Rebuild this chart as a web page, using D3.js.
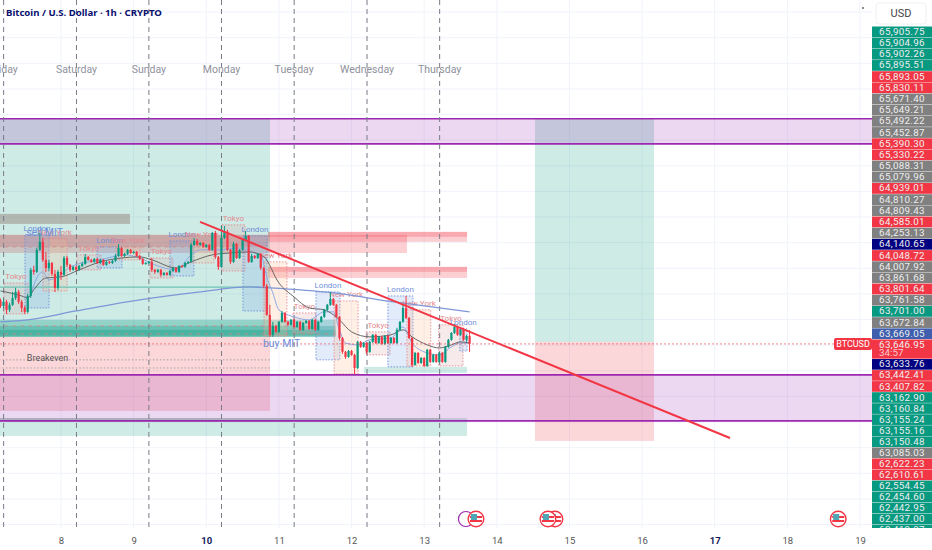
<!DOCTYPE html>
<html>
<head>
<meta charset="utf-8">
<script src="https://cdn.jsdelivr.net/npm/d3@7"></script>
<style>
  html, body { margin: 0; padding: 0; background: #fff; overflow: hidden; }
  text { font-family: Roboto, sans-serif; }
</style>
</head>
<body>
<div id="chart"></div>
<script>
// hourly candles, first one is friday 04:00
const firstDay = 7 + 4 / 24
const firstOpen = 63925
const closes = [
  63890,63916,63865,63897,63941,63980,63916,63877,63852,63954,
  64121,64108,64249,64300,64185,64133,64165,64095,64005,64108,
  64089,64197,64153,64121,64140,64121,64146,64159,64204,64185,
  64172,64191,64165,64185,64153,64172,64165,64178,64210,64261,
  64210,64223,64249,64229,64236,64210,64191,64159,64165,64172,
  64121,64108,64121,64089,64101,64089,64114,64133,64108,64146,
  64140,64165,64172,64281,64306,64281,64293,64268,64281,64249,
  64357,64204,64140,64325,64364,64249,64172,64287,64197,64249,
  64313,64338,64172,64210,64197,64223,64133,64018,63833,63705,
  63762,63724,63788,63845,63788,63769,63801,63756,63788,63737,
  63781,63794,63743,63801,63737,63788,63820,63865,63897,63935,
  63897,63820,63685,63596,63564,63602,63577,63493,63660,63628,
  63653,63596,63660,63705,63653,63692,63647,63698,63653,63685,
  63653,63737,63788,63877,63813,63685,63513,63589,63525,63557,
  63506,63609,63532,63577,63532,63589,63532,63628,63673,63717,
  63756,63705,63737,63673,63698,63647
]
const wickUp = [
  13,19,13,13,38,26,13,13,13,13,
  13,26,13,58,26,50,19,6,26,13,
  38,13,13,6,6,6,6,13,19,6,
  6,6,6,6,6,6,6,6,13,26,
  6,6,6,6,6,6,6,6,6,6,
  26,6,6,6,6,6,6,6,6,6,
  6,6,6,13,19,13,6,6,6,6,
  6,13,6,76,38,13,6,13,6,6,
  6,32,6,13,6,6,6,6,13,64,
  26,6,6,13,6,6,6,6,6,6,
  6,6,6,6,6,6,6,6,6,45,
  6,6,6,6,6,6,6,6,6,6,
  6,6,6,6,6,6,6,6,6,6,
  6,13,6,26,77,6,6,6,6,6,
  6,6,6,6,6,6,6,6,6,6,
  19,6,6,13,6,38
]
const wickDown = [
  13,13,26,13,6,13,13,26,13,6,
  13,19,6,6,13,26,19,13,26,13,
  32,6,13,13,6,6,6,6,6,6,
  6,6,6,6,6,6,6,6,6,6,
  6,6,6,6,6,6,6,6,6,6,
  13,13,6,13,6,6,6,6,6,6,
  6,6,6,6,6,6,6,6,6,6,
  6,13,19,6,6,6,13,6,6,6,
  6,6,6,6,6,6,13,13,6,13,
  13,6,6,6,6,6,6,6,6,6,
  6,6,6,6,6,6,6,6,6,6,
  6,6,13,13,13,6,6,38,6,6,
  6,13,6,6,6,6,6,6,6,6,
  6,6,6,6,6,6,13,6,6,6,
  6,6,6,6,6,6,6,6,6,6,
  6,6,6,6,13,51
]

// moving averages: [hour index, price]
const maSlow = [[0,63788],[9,63801],[25,63858],[46,63929],[66,63980],[82,64012],[89,64005],[110,63973],[130,63916],[155,63852]]
const maMid = [[0,63986],[7,63954],[9,63941],[11,63993],[15,64069],[20,64076],[26,64121],[33,64172],[40,64197],[46,64204],[50,64185],[58,64133],[63,64172],[70,64217],[76,64229],[82,64236],[87,64205],[92,64037],[97,63948],[102,63877],[107,63865],[110,63833],[112,63801],[116,63724],[122,63692],[129,63705],[133,63737],[136,63692],[141,63641],[145,63621],[149,63641],[152,63660],[155,63653]]
const maFast = [[10,63961],[12,64069],[14,64108],[16,64057],[20,64089],[23,64140],[33,64185],[41,64217],[46,64197],[51,64153],[58,64121],[63,64217],[66,64249],[72,64249],[79,64261],[84,64229],[86,64217],[88,64076],[90,63973],[92,63865],[97,63820],[102,63801],[107,63852],[110,63852],[112,63737],[114,63653],[118,63641],[122,63673],[129,63685],[133,63756],[136,63653],[140,63596],[145,63577],[149,63628],[152,63653],[155,63653]]

// zones: [day from, day to, price top, price bottom]
const purpleZones = [[7,19.17,65088,64927],[7,19.17,63449,63155]]
const greenZones = [[7,10.877,65088,63692],[14.525,16.164,65088,63660],[7,13.59,63173,63058],[12.17,13.59,63500,63461]]
const redZones = [[7,10.877,63692,63218],[14.525,16.164,63660,63026]]
const baseZones = [[7,11.78,63801,63692],[7,11.78,63762,63692],[7,11.78,63737,63700]]
const supplyZones = [[10.85,13.59,64364,64300],[10.85,13.59,64364,64332],[7,12.763,64345,64229],[7,10.85,64345,64268],[10.85,13.59,64140,64069],[10.85,13.59,64140,64108]]
const brownZones = [[7,8.95,64479,64415]]
const greyZones = [[7,13.22,63173,63148]]

// sessions: [name, day from, day to, high, low]
const sessions = [
  ["Tokyo",7.215,7.546,64037,63839],["London",7.504,7.835,64345,63877],["New York",7.752,8.083,64319,63986],
  ["Tokyo",8.22,8.55,64217,64121],["London",8.496,8.84,64268,64133],["New York",8.757,9.088,64268,64185],
  ["Tokyo",9.225,9.54,64197,64069],["London",9.5,9.83,64306,64082],["New York",9.776,10.106,64306,64165],
  ["Tokyo",10.216,10.533,64409,64114],["London",10.505,10.836,64338,63858],["New York",10.795,11.11,64172,63698],
  ["Tokyo",11.194,11.51,63845,63717],["London",11.51,11.84,63980,63545],["New York",11.76,12.09,63922,63455],
  ["Tokyo",12.2,12.53,63724,63577],["London",12.5,12.846,63954,63500],["New York",12.763,13.09,63865,63506],
  ["Tokyo",13.2,13.534,63769,63506],["London",13.49,13.59,63743,63602]
]

const trendDays = [9.914, 17.21]
const trendPrices = [64428, 63045]
const flatLevel = 64010
const lastPrice = 63646.95

// dotted/dashed levels: [price, day from, day to]
const redDotted = [[lastPrice,7,19.17]]
const greyDotted = [[63545,7,10.877],[63493,7,10.877]]
const pinkDashed = [[63762,7,11.3],[63711,7,11.78],[64268,7,10.3]]

const weekdays = ["Friday","Saturday","Sunday","Monday","Tuesday","Wednesday","Thursday"]
const weekLines = [7.21,8.213,9.21,10.21,11.21,12.213,13.213]
const dayTicks = [8,9,10,11,12,13,14,15,16,17,18,19]
const gridPrices = [65771,65607,65443,65279,65115,64951,64787,64623,64459,64295,64131,63967,63803,63639,63475,63311,63147,62983,62819,62655,62491]

const notes = [["sell MIT",7.52,64340],["buy MIT",10.78,63626]]
const flagDays = [14.8,14.704,13.713,18.7]
const clockDays = [13.575]

const axisLabels = ["65,905.75","65,904.96","65,902.26","65,895.51","65,893.05","65,830.11","65,671.40","65,649.21","65,492.22","65,452.87","65,390.30","65,330.22","65,088.31","65,079.96","64,939.01","64,810.27","64,809.43","64,585.01","64,253.13","64,140.65","64,048.72","64,007.92","63,861.68","63,801.64","63,761.58","63,701.00","63,672.84","63,669.05","63,646.95","63,633.76","63,442.41","63,407.82","63,162.90","63,160.84","63,155.24","63,155.16","63,150.48","63,085.03","62,622.23","62,610.61","62,554.45","62,454.60","62,442.95","62,437.00","62,419.87"]
const axisKinds = "ggggrrnnnnrrnnrnnrnkrnnrngnbrkrrgggggnrrggggg"

const width = 932, height = 550, chartRight = 872, chartBottom = 528
const green = "#089981", red = "#f23645", purple = "#9c27b0"
const tagFill = { g: green, r: red, n: "#808080", k: "#000080", b: "#3f5fae" }

const x = d3.scaleLinear().domain([8, 19]).range([61, 860])
const y = d3.scaleLinear().domain([65848, 62328]).range([0, 550])

const svg = d3.select("#chart").append("svg")
  .attr("width", width)
  .attr("height", height)
  .style("display", "block")

svg.append("clipPath").attr("id", "plot").append("rect")
  .attr("width", chartRight).attr("height", chartBottom)

const plot = svg.append("g").attr("clip-path", "url(#plot)")

// grid
plot.append("g").selectAll("line").data(dayTicks).enter().append("line")
  .attr("x1", d => x(d)).attr("x2", d => x(d))
  .attr("y1", 0).attr("y2", chartBottom)
  .attr("stroke", "#f0f3fa")
plot.append("g").selectAll("line").data(gridPrices).enter().append("line")
  .attr("x1", 0).attr("x2", chartRight)
  .attr("y1", d => y(d)).attr("y2", d => y(d))
  .attr("stroke", "#f0f3fa")

const drawZones = (zones, fill, op) => {
  plot.append("g").selectAll("rect").data(zones).enter().append("rect")
    .attr("x", d => x(d[0]))
    .attr("width", d => x(d[1]) - x(d[0]))
    .attr("y", d => y(d[2]))
    .attr("height", d => y(d[3]) - y(d[2]))
    .attr("fill", fill)
    .attr("fill-opacity", op)
}

drawZones(supplyZones, red, 0.24)
drawZones(brownZones, "#a9605a", 0.4)
drawZones(greenZones, green, 0.2)
drawZones(redZones, red, 0.2)
drawZones(purpleZones, purple, 0.18)
drawZones(greyZones, "#888", 0.35)
drawZones(baseZones, green, 0.3)

// session boxes
const sessionColor = { "Tokyo": "#e58a8f", "London": "#6f8fd8", "New York": "#e58a8f" }
const sessionFill = { "Tokyo": "#d9a0a0", "London": "#7da2e8", "New York": "#ffb48a" }
plot.append("g").selectAll("rect").data(sessions).enter().append("rect")
  .attr("x", d => x(d[1]))
  .attr("width", d => x(d[2]) - x(d[1]))
  .attr("y", d => y(d[3]))
  .attr("height", d => y(d[4]) - y(d[3]))
  .attr("fill", d => sessionFill[d[0]])
  .attr("fill-opacity", 0.22)
  .attr("stroke", d => sessionColor[d[0]])
  .attr("stroke-width", 0.9)
  .attr("stroke-dasharray", "1.5 1.5")

// levels
const drawLevels = (levels, color, dash, op) => {
  plot.append("g").selectAll("line").data(levels).enter().append("line")
    .attr("x1", d => x(d[1])).attr("x2", d => x(d[2]))
    .attr("y1", d => y(d[0])).attr("y2", d => y(d[0]))
    .attr("stroke", color)
    .attr("stroke-opacity", op)
    .attr("stroke-dasharray", dash)
}
drawLevels(greyDotted, "#888", "1.5 2", 0.7)
drawLevels(pinkDashed, "#c98a8a", "4 4", 0.8)

// teal flat line
plot.append("line")
  .attr("x1", 0).attr("x2", x(10.877))
  .attr("y1", y(flatLevel)).attr("y2", y(flatLevel))
  .attr("stroke", "#6fc3b2").attr("stroke-width", 1.2)

// purple lines
plot.append("g").selectAll("line").data(purpleZones.flatMap(d => [d[2], d[3]])).enter().append("line")
  .attr("x1", 0).attr("x2", chartRight)
  .attr("y1", d => y(d)).attr("y2", d => y(d))
  .attr("stroke", purple).attr("stroke-width", 1.7)

// week day dashed lines
plot.append("g").selectAll("line").data(weekLines).enter().append("line")
  .attr("x1", d => x(d)).attr("x2", d => x(d))
  .attr("y1", 0).attr("y2", chartBottom)
  .attr("stroke", "#787b86")
  .attr("stroke-dasharray", "5 4")

plot.append("g").selectAll("text").data(weekdays).enter().append("text")
  .attr("x", (d, i) => x(weekLines[i]))
  .attr("y", 73)
  .attr("text-anchor", "middle")
  .attr("font-size", "10.5px")
  .attr("fill", "#8f929c")
  .text(d => d)

// session labels
plot.append("g").selectAll("text").data(sessions).enter().append("text")
  .attr("x", d => x((d[1] + d[2]) / 2))
  .attr("y", d => y(d[3]) - 4)
  .attr("text-anchor", "middle")
  .attr("font-size", "8px")
  .attr("fill", d => sessionColor[d[0]])
  .text(d => d[0])

// moving averages
const line = d3.line()
  .x(d => x(firstDay + d[0] / 24))
  .y(d => y(d[1]))
  .curve(d3.curveMonotoneX)
plot.append("path").datum(maSlow).attr("d", line).attr("fill", "none").attr("stroke", "#7e97d6").attr("stroke-width", 1.3)
plot.append("path").datum(maFast).attr("d", line).attr("fill", "none").attr("stroke", "#8ea9e2").attr("stroke-width", 1)
plot.append("path").datum(maMid).attr("d", line).attr("fill", "none").attr("stroke", "#666").attr("stroke-width", 1)

// candles
const candles = closes.map((c, i) => {
  const o = i ? closes[i - 1] : firstOpen
  return { day: firstDay + i / 24, o: o, c: c, h: Math.max(o, c) + wickUp[i], l: Math.min(o, c) - wickDown[i] }
})
const candle = plot.append("g").selectAll("g").data(candles).enter().append("g")
candle.append("line")
  .attr("x1", d => x(d.day)).attr("x2", d => x(d.day))
  .attr("y1", d => y(d.h)).attr("y2", d => y(d.l))
  .attr("stroke", d => d.c >= d.o ? green : red)
candle.append("rect")
  .attr("x", d => x(d.day) - 1.1)
  .attr("width", 2.2)
  .attr("y", d => y(Math.max(d.o, d.c)))
  .attr("height", d => Math.max(1, Math.abs(y(d.o) - y(d.c))))
  .attr("fill", d => d.c >= d.o ? green : red)

drawLevels(redDotted, red, "1.5 2.5", 0.8)

// trend line
plot.append("line")
  .attr("x1", x(trendDays[0])).attr("y1", y(trendPrices[0]))
  .attr("x2", x(trendDays[1])).attr("y2", y(trendPrices[1]))
  .attr("stroke", red).attr("stroke-width", 2)

// notes
plot.append("g").selectAll("text").data(notes).enter().append("text")
  .attr("x", d => x(d[1])).attr("y", d => y(d[2]))
  .attr("font-size", "10.5px")
  .attr("fill", "#6f8fd8")
  .text(d => d[0])
plot.append("text")
  .attr("x", x(7.53)).attr("y", y(63540))
  .attr("font-size", "9px")
  .attr("fill", "#555")
  .text("Breakeven")

// title
svg.append("text")
  .attr("x", 6).attr("y", 16)
  .attr("font-size", "9.6px")
  .attr("font-weight", 700)
  .style("font-family", "'Noto Sans'")
  .attr("fill", "#0a0f6e")
  .text("Bitcoin / U.S. Dollar · 1h · CRYPTO")

// time axis
const xAxis = d3.axisBottom(x).tickValues(dayTicks).tickSize(0).tickPadding(9).tickFormat(d3.format("d"))
const axisG = svg.append("g").attr("transform", "translate(0," + chartBottom + ")").call(xAxis)
axisG.select(".domain").remove()
axisG.selectAll("text")
  .attr("font-size", "9.5px")
  .style("font-family", "Roboto")
  .attr("font-weight", d => d === 10 || d === 17 ? 700 : 400)
  .attr("fill", d => d === 10 || d === 17 ? "#131a5c" : "#555")

// events
svg.append("g").selectAll("circle").data(clockDays).enter().append("circle")
  .attr("cx", d => x(d)).attr("cy", 519).attr("r", 7.5)
  .attr("fill", "#fff").attr("stroke", purple).attr("stroke-width", 1.2)
const flags = svg.append("g").selectAll("g").data(flagDays).enter().append("g")
  .attr("transform", d => "translate(" + x(d) + ",519)")
flags.append("circle").attr("r", 7.8).attr("fill", "#fff").attr("stroke", red).attr("stroke-width", 1.4)
flags.append("rect").attr("x", -6).attr("y", -3).attr("width", 12).attr("height", 2).attr("fill", red)
flags.append("rect").attr("x", -6).attr("y", 1).attr("width", 12).attr("height", 2).attr("fill", red)
flags.append("rect").attr("x", -5).attr("y", -5).attr("width", 6).attr("height", 6).attr("fill", "#4fa6b4")

// price tag column
svg.append("rect").attr("x", 876).attr("y", 3).attr("width", 50).attr("height", 21)
  .attr("rx", 3).attr("fill", "#fff").attr("stroke", "#eef0f4")
svg.append("text").attr("x", 901).attr("y", 17).attr("text-anchor", "middle")
  .attr("font-size", "11px").attr("fill", "#444").text("USD")

svg.append("clipPath").attr("id", "tagclip").append("rect")
  .attr("x", chartRight).attr("y", 26).attr("width", 60).attr("height", chartBottom - 26)
const tags = svg.append("g").attr("clip-path", "url(#tagclip)")

let tagTop = 26.5
axisLabels.forEach((t, i) => {
  const live = t === "63,646.95"
  const h = live ? 19.5 : (i < 28 ? 11.18 : 11.05)
  tags.append("rect").attr("x", chartRight).attr("y", tagTop).attr("width", 60).attr("height", h - 0.4)
    .attr("fill", tagFill[axisKinds[i]])
  tags.append("text").attr("x", 902).attr("y", tagTop + 8.4).attr("text-anchor", "middle")
    .attr("font-size", "9.8px").attr("letter-spacing", "0.3px")
    .attr("fill", "#eeeeee").text(t)
  if (live) {
    tags.append("text").attr("x", 879).attr("y", tagTop + 16.6).attr("font-size", "9.8px")
      .attr("fill", "#ffc9ce").text("34:57")
  }
  tagTop += h
})

svg.append("rect").attr("x", 834).attr("y", y(lastPrice) - 6).attr("width", 38).attr("height", 12)
  .attr("rx", 2).attr("fill", red)
svg.append("text").attr("x", 853).attr("y", y(lastPrice) + 3.4).attr("text-anchor", "middle")
  .attr("font-size", "9px").attr("fill", "#fff").text("BTCUSD")

svg.append("circle").attr("cx", 863).attr("cy", 8).attr("r", 1).attr("fill", "#666")
</script>
</body>
</html>
